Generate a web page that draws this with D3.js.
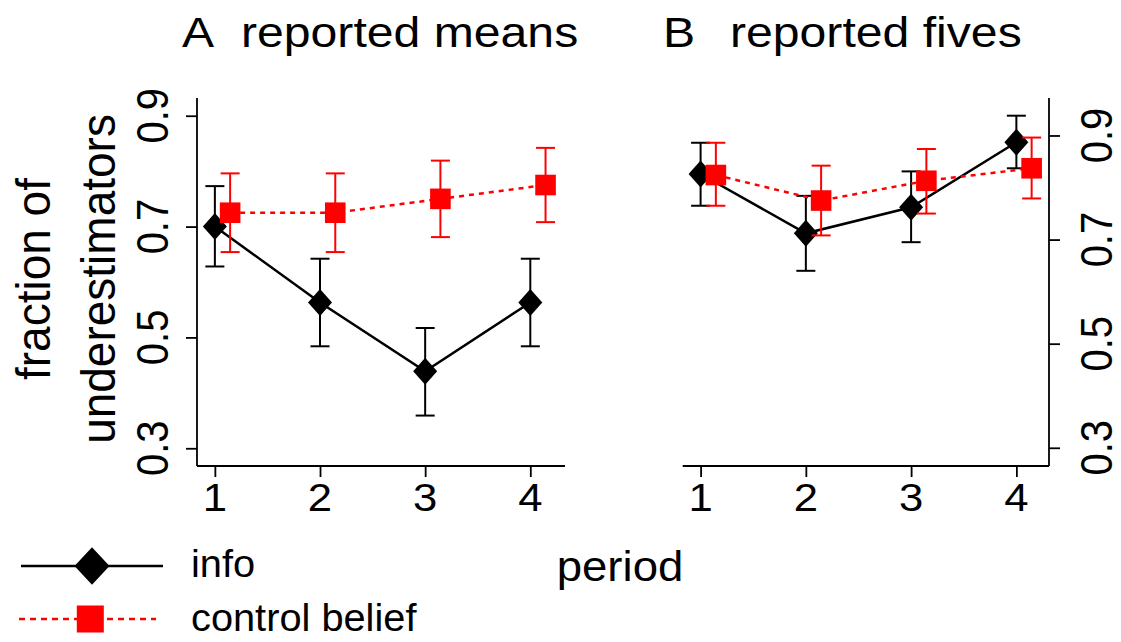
<!DOCTYPE html>
<html>
<head>
<meta charset="utf-8">
<script src="https://cdn.jsdelivr.net/npm/d3@7"></script>
<style>
  body { margin: 0; background: #fff; }
  svg { display: block; font-family: "Liberation Sans", Arial, sans-serif; }
</style>
</head>
<body>
<svg id="chart" width="1121" height="642"></svg>
<script>
// periods and tick labels
const periods = [1, 2, 3, 4];
const yTicks = [0.3, 0.5, 0.7, 0.9];

// A: reported means
const meansInfo = [0.700, 0.563, 0.439, 0.563];
const meansInfoLo = [0.628, 0.484, 0.359, 0.484];
const meansInfoHi = [0.773, 0.642, 0.517, 0.642];
const meansControl = [0.725, 0.725, 0.750, 0.775];
const meansControlLo = [0.654, 0.654, 0.681, 0.708];
const meansControlHi = [0.796, 0.796, 0.819, 0.842];

// B: reported fives
const fivesInfo = [0.826, 0.712, 0.762, 0.887];
const fivesInfoLo = [0.765, 0.640, 0.695, 0.837];
const fivesInfoHi = [0.886, 0.784, 0.831, 0.938];
const fivesControl = [0.824, 0.775, 0.813, 0.837];
const fivesControlLo = [0.765, 0.708, 0.750, 0.779];
const fivesControlHi = [0.886, 0.842, 0.874, 0.896];

const RED = "#ff0000";
const shift = 0.145;   // control series is nudged right

const svg = d3.select("#chart");

// text helper, the picture is a bit wider than tall so glyphs get stretched in x
function label(x, y, txt, size, opts) {
  opts = opts || {};
  const sx = opts.sx || 1.1;
  const rot = opts.rotate || 0;
  return svg.append("text")
    .attr("transform", "translate(" + x + "," + y + ") scale(" + sx + ",1) rotate(" + rot + ")")
    .attr("text-anchor", opts.anchor || "start")
    .style("font-size", size + "px")
    .attr("fill", "#000")
    .text(txt);
}

function diamond(g, cx, cy, hw, hh) {
  g.append("path")
    .attr("d", "M" + cx + "," + (cy - hh) + "L" + (cx + hw) + "," + cy +
               "L" + cx + "," + (cy + hh) + "L" + (cx - hw) + "," + cy + "Z")
    .attr("fill", "#000");
}

function drawPanel(p) {
  const x = d3.scaleLinear().domain(p.xDomain).range(p.xRange);
  const y = d3.scaleLinear().domain(p.yDomain).range([466, 98]);
  const g = svg.append("g");

  // axes
  const xAxis = d3.axisBottom(x).tickValues(periods).tickSize(11).tickFormat("");
  const gx = g.append("g").attr("transform", "translate(0,466)").call(xAxis);
  const yAxis = (p.side === "left" ? d3.axisLeft(y) : d3.axisRight(y))
    .tickValues(yTicks).tickSize(11).tickFormat("");
  const gy = g.append("g")
    .attr("transform", "translate(" + (p.side === "left" ? p.xRange[0] : p.xRange[1]) + ",0)")
    .call(yAxis);
  [gx, gy].forEach(a => {
    a.select(".domain").remove();
    a.selectAll("line").attr("stroke", "#000").attr("stroke-width", 1.8);
  });
  g.append("line").attr("x1", p.xRange[0]).attr("x2", p.xRange[1])
    .attr("y1", 466).attr("y2", 466).attr("stroke", "#000").attr("stroke-width", 1.8);
  const ax = p.side === "left" ? p.xRange[0] : p.xRange[1];
  g.append("line").attr("x1", ax).attr("x2", ax)
    .attr("y1", 98).attr("y2", 466).attr("stroke", "#000").attr("stroke-width", 1.8);

  periods.forEach(d => label(x(d), 511, String(d), 38, {anchor: "middle", sx: 1.15}));
  yTicks.forEach(v => label(p.tickLabelX, y(v), v.toFixed(1), 40, {anchor: "middle", rotate: -90, sx: 1.1}));

  // series
  const series = [
    {val: p.info, lo: p.infoLo, hi: p.infoHi, dx: 0, color: "#000", dash: null},
    {val: p.control, lo: p.controlLo, hi: p.controlHi, dx: shift, color: RED, dash: "5,5"}
  ];
  series.forEach((s, si) => {
    const sg = g.append("g");
    periods.forEach((d, i) => {
      const cx = x(d + s.dx);
      sg.append("line").attr("x1", cx).attr("x2", cx)
        .attr("y1", y(s.lo[i])).attr("y2", y(s.hi[i]))
        .attr("stroke", s.color).attr("stroke-width", 2);
      [s.lo[i], s.hi[i]].forEach(v => {
        sg.append("line").attr("x1", cx - 9.5).attr("x2", cx + 9.5)
          .attr("y1", y(v)).attr("y2", y(v))
          .attr("stroke", s.color).attr("stroke-width", 2);
      });
    });
    const line = d3.line().x((d, i) => x(periods[i] + s.dx)).y(d => y(d));
    sg.append("path").datum(s.val).attr("d", line)
      .attr("fill", "none").attr("stroke", s.color).attr("stroke-width", 2.5)
      .attr("stroke-dasharray", s.dash);
    periods.forEach((d, i) => {
      const cx = x(d + s.dx), cy = y(s.val[i]);
      if (si === 0) diamond(sg, cx, cy, 12, 13.5);
      else sg.append("rect").attr("x", cx - 10.3).attr("y", cy - 10.3)
        .attr("width", 20.6).attr("height", 20.6).attr("fill", RED);
    });
  });
}

drawPanel({
  side: "left", xDomain: [0.83, 4.33], xRange: [197, 565], yDomain: [0.268, 0.932],
  tickLabelX: 168,
  info: meansInfo, infoLo: meansInfoLo, infoHi: meansInfoHi,
  control: meansControl, controlLo: meansControlLo, controlHi: meansControlHi
});
drawPanel({
  side: "right", xDomain: [0.83, 4.31], xRange: [682.7, 1049], yDomain: [0.265, 0.972],
  tickLabelX: 1111.5,
  info: fivesInfo, infoLo: fivesInfoLo, infoHi: fivesInfoHi,
  control: fivesControl, controlLo: fivesControlLo, controlHi: fivesControlHi
});

// titles
label(182, 47, "A", 43, {sx: 1.12});
label(241, 47, "reported means", 43, {sx: 1.12});
label(663, 47, "B", 43, {sx: 1.12});
label(730, 47, "reported fives", 43, {sx: 1.12});

// axis titles
label(50, 279, "fraction of", 46, {anchor: "middle", rotate: -90, sx: 1.05});
label(115, 279, "underestimators", 46, {anchor: "middle", rotate: -90, sx: 1.05});
label(620, 581, "period", 43, {anchor: "middle", sx: 1.06});

// legend
svg.append("line").attr("x1", 21).attr("x2", 163).attr("y1", 566).attr("y2", 566)
  .attr("stroke", "#000").attr("stroke-width", 2.5);
diamond(svg, 92, 566, 17.5, 18.7);
label(191, 577, "info", 39, {sx: 1.02});
svg.append("line").attr("x1", 19).attr("x2", 156).attr("y1", 619).attr("y2", 619)
  .attr("stroke", RED).attr("stroke-width", 2.5).attr("stroke-dasharray", "6,5");
svg.append("rect").attr("x", 90.3 - 13.5).attr("y", 619 - 13.5)
  .attr("width", 27).attr("height", 27).attr("fill", RED);
label(191, 631, "control belief", 39, {sx: 1.02});
</script>
</body>
</html>
